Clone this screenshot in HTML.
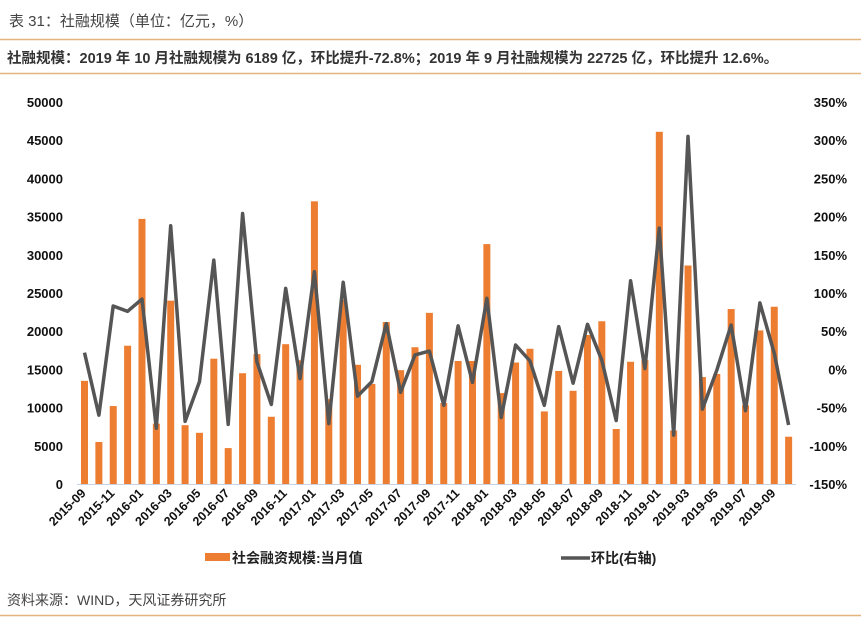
<!DOCTYPE html>
<html><head><meta charset="utf-8">
<style>
body{margin:0;background:#fff;}
svg{display:block;}
text{font-family:"Liberation Sans","Noto Sans CJK SC",sans-serif;}
</style></head>
<body>
<svg id="chart" width="861" height="619" viewBox="0 0 861 619">
<text x="9" y="26" font-size="15" fill="#444">表 31：社融规模（单位：亿元，%）</text>
<line x1="0" y1="39.5" x2="861" y2="39.5" stroke="#e3b47c" stroke-width="1.5"/>
<text x="7" y="63" font-size="14.5" font-weight="bold" fill="#333">社融规模：2019 年 10 月社融规模为 6189 亿，环比提升-72.8%；2019 年 9 月社融规模为 22725 亿，环比提升 12.6%。</text>
<line x1="0" y1="73.5" x2="861" y2="73.5" stroke="#e3b47c" stroke-width="1.5"/>
<g id="left-ticks"></g><g id="right-ticks"></g>
<g id="bars"></g>
<line x1="77" y1="484.5" x2="796" y2="484.5" stroke="#c8d4e3" stroke-width="1"/>
<polyline id="ratio-line" fill="none" stroke="#555" stroke-width="3.5" stroke-linejoin="round"/>
<g id="x-labels"></g>
<g>
<rect x="205" y="553" width="25" height="8" fill="#ed7d31"/>
<text x="232" y="563" font-size="14" font-weight="bold" fill="#222">社会融资规模:当月值</text>
<line x1="561" y1="558" x2="590" y2="558" stroke="#555" stroke-width="3.5"/>
<text x="591" y="563" font-size="14" font-weight="bold" fill="#222">环比(右轴)</text>
</g>
<text x="7" y="605" font-size="14" fill="#444">资料来源：WIND，天风证券研究所</text>
<line x1="0" y1="615.5" x2="861" y2="615.5" stroke="#e3b47c" stroke-width="1.5"/>
</svg>
<script>
const values=[13500,5500,10200,18100,34700,7900,24000,7700,6700,16400,4700,14500,17000,8800,18300,16200,37000,11100,24100,15600,13100,21200,14900,17900,22400,10600,16100,16100,31400,11900,15900,17700,9500,14800,12200,19500,21300,7200,16000,16200,46100,7000,28600,14000,14400,22900,10300,20100,23200,6189];
const ratios=[22,-60,83,76,92,-77,188,-68,-16,143,-72,204,10,-46,106,-12,128,-71,114,-35,-16,60,-30,19,24,-47,57,-17,93,-63,32,11,-47,56,-18,59,12,-67,116,1,185,-86,305,-52,-1,58,-54,87,21,-72.8];
const leftTicks=[0,5000,10000,15000,20000,25000,30000,35000,40000,45000,50000];
const rightTicks=[-150,-100,-50,0,50,100,150,200,250,300,350];
const startYear=2015,startMonth=9;
const ns="http://www.w3.org/2000/svg";
const X0=84.5,DX=14.37,Y0=484,Y1=102;
const xs=i=>X0+i*DX;
const yl=v=>Y0-(v/50000)*(Y0-Y1);
const yr=v=>Y0-((v+150)/500)*(Y0-Y1);
function mk(t,a){const e=document.createElementNS(ns,t);for(const k in a)e.setAttribute(k,a[k]);return e;}
const lt=document.getElementById('left-ticks');
leftTicks.forEach(v=>{const t=mk('text',{x:63,y:yl(v)+5,'text-anchor':'end','font-size':13,'font-weight':'bold',fill:'#111'});t.textContent=v;


lt.appendChild(t);});
const rt=document.getElementById('right-ticks');
rightTicks.forEach(v=>{const t=mk('text',{x:847,y:yr(v)+5,'text-anchor':'end','font-size':13,'font-weight':'bold',fill:'#111'});t.textContent=v+'%';


rt.appendChild(t);});
const bg=document.getElementById('bars');
values.forEach((v,i)=>{const r=mk('rect',{x:xs(i)-3.5,y:yl(v),width:7,height:Y0-yl(v),fill:'#ed7d31'});


bg.appendChild(r);});
document.getElementById('ratio-line').setAttribute('points',ratios.map((v,i)=>xs(i).toFixed(1)+','+yr(v).toFixed(1)).join(' '));
const xl=document.getElementById('x-labels');
for(let i=0;i<values.length;i+=2){let m=startMonth+i-1,y=startYear+Math.floor(m/12);m=m%12+1;
const lab=y+'-'+(m<10?'0':'')+m;const x=xs(i)+2,yy=494;
const t=mk('text',{x:x,y:yy,'text-anchor':'end','font-size':12.5,'font-weight':'bold',fill:'#111',transform:'rotate(-45 '+x+' '+yy+')'});t.textContent=lab;


xl.appendChild(t);}
</script>
</body></html>
